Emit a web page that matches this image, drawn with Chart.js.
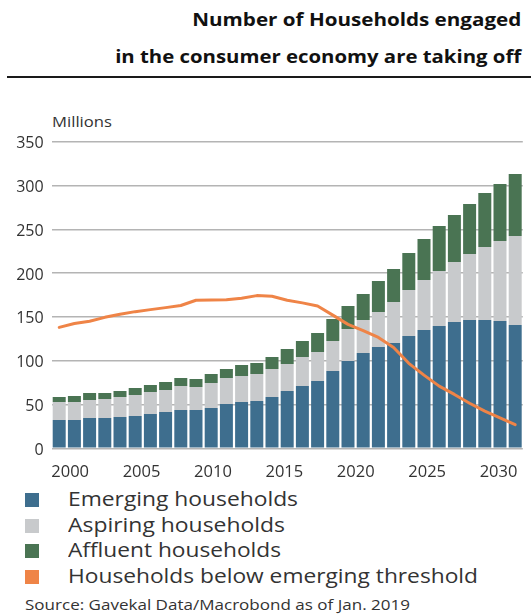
<!DOCTYPE html>
<html><head><meta charset="utf-8">
<script src="https://cdn.jsdelivr.net/npm/chart.js@4.4.1/dist/chart.umd.min.js"></script>
<style>
html,body{margin:0;padding:0;background:#fff;}
body{width:531px;height:616px;position:relative;overflow:hidden;font-family:"Open Sans",sans-serif;color:#333;}
.t{position:absolute;white-space:nowrap;line-height:1;transform-origin:left center;}
.title{right:10px;font-weight:700;font-size:18.5px;color:#111;transform-origin:right center;}
#rule{position:absolute;left:7px;right:0;top:76px;height:2px;background:#1a1a1a;}
.sw{position:absolute;left:25px;width:14px;height:14px;}
.lg{left:68px;font-size:19.5px;color:#333;}
#chartBox{position:absolute;left:0;top:100px;width:531px;height:380px;}
</style></head>
<body>
<div class="t title" id="title1" style="top:10px" data-w="329">Number of Households engaged</div>
<div class="t title" id="title2" style="top:47px" data-w="406">in the consumer economy are taking off</div>
<div id="rule"></div>
<div class="t" style="left:52px;top:114px;font-size:15px" data-w="60">Millions</div>
<div id="chartBox"><canvas id="c" width="531" height="380"></canvas></div>
<div class="sw" style="top:493px;background:#3e6e8e"></div>
<div class="sw" style="top:519px;background:#c8cacc"></div>
<div class="sw" style="top:544px;background:#4a7453"></div>
<div class="sw" style="top:570px;background:#ef8447"></div>
<div class="t lg" style="top:489px" data-w="230">Emerging households</div>
<div class="t lg" style="top:515px" data-w="217">Aspiring households</div>
<div class="t lg" style="top:540px" data-w="213">Affluent households</div>
<div class="t lg" style="top:566px" data-w="410">Households below emerging threshold</div>
<div class="t" style="left:25px;top:598px;font-size:14.5px;color:#333" data-w="385">Source: Gavekal Data/Macrobond as of Jan. 2019</div>
<script>
// ---- data ----
const years = ['2000','2001','2002','2003','2004','2005','2006','2007','2008','2009','2010','2011','2012','2013','2014','2015','2016','2017','2018','2019','2020','2021','2022','2023','2024','2025','2026','2027','2028','2029','2030'];
const emerging = [32.3,32.3,34.6,34.6,35.8,36.9,39.2,41.5,43.8,43.8,46.0,50.6,52.9,54.0,58.6,65.4,71.2,76.9,88.3,99.7,108.8,115.7,120.2,128.2,135.1,139.6,144.2,146.5,146.5,145.4,140.8];
const aspiring = [20.6,20.6,20.6,21.7,22.8,24.0,25.1,25.1,27.4,26.2,28.6,29.7,29.7,30.9,32.0,30.9,33.1,33.1,34.2,36.5,37.7,39.9,46.8,52.5,57.1,62.8,68.5,75.3,83.3,91.3,101.6];
const affluent = [5.7,6.8,8.0,6.9,6.8,8.0,8.0,9.1,9.1,9.1,10.3,10.3,12.5,12.5,13.7,17.1,18.2,21.7,25.1,26.3,29.7,35.4,37.7,42.3,46.8,51.4,53.7,57.1,61.7,65.0,70.8];
const belowThreshold = [138,142.5,145,149.5,153,156,158.3,160.6,163,169,169.3,169.5,171.3,174.3,173.5,169,166,162.5,152,141.5,134.3,126.5,115,97,83.5,71,61.5,51.4,42.5,34.8,27];
const yTicks = [0,50,100,150,200,250,300,350];
const xTickYears = [2000,2005,2010,2015,2020,2025,2030];

// horizontal fit of html texts to the reference widths
document.querySelectorAll('[data-w]').forEach(el=>{
  const w = el.getBoundingClientRect().width;
  el.style.transform = 'scaleX(' + (+el.dataset.w / w).toFixed(4) + ')';
});

const FONT = '"Open Sans", sans-serif';
new Chart(document.getElementById('c'), {
  data: {
    labels: years,
    datasets: [
      {type:'line', label:'Households below emerging threshold', data: belowThreshold, borderColor:'#ef8447', borderWidth:3, pointRadius:0, tension:0, stack:'line', order:0, borderJoinStyle:'round', borderCapStyle:'round'},
      {type:'bar', label:'Emerging households', data: emerging, backgroundColor:'#3e6e8e', stack:'s', order:1, categoryPercentage:1, barPercentage:0.855},
      {type:'bar', label:'Aspiring households', data: aspiring, backgroundColor:'#c8cacc', stack:'s', order:1, categoryPercentage:1, barPercentage:0.855},
      {type:'bar', label:'Affluent households', data: affluent, backgroundColor:'#4a7453', stack:'s', order:1, categoryPercentage:1, barPercentage:0.855}
    ]
  },
  options: {
    responsive:false, animation:false, devicePixelRatio:1,
    layout:{padding:{top:41.7,right:8.2,left:0,bottom:0}},
    plugins:{legend:{display:false}, tooltip:{enabled:false}},
    scales:{
      x:{type:'category', display:false, stacked:true, offset:true},
      xl:{type:'linear', position:'bottom', min:1998.7, max:2031.7,
        afterBuildTicks: s => { s.ticks = xTickYears.map(v=>({value:v})); },
        afterFit: s => { s.height = 31.7; },
        ticks:{color:'#333', font:{family:FONT,size:16.5}, padding:6, maxRotation:0, autoSkip:false, callback: v => String(v)},
        grid:{display:false}, border:{display:false}},
      y:{stacked:true, min:0, max:350,
        afterBuildTicks: s => { s.ticks = yTicks.map(v=>({value:v})); },
        afterFit: s => { s.width = 51.6; },
        ticks:{color:'#333', font:{family:FONT,size:16}, padding:8, labelOffset:2, callback: v => String(v)},
        grid:{color:'#b4b4b4', lineWidth:1.5, drawTicks:false}, border:{display:false}}
    }
  }
});
</script>
</body></html>
